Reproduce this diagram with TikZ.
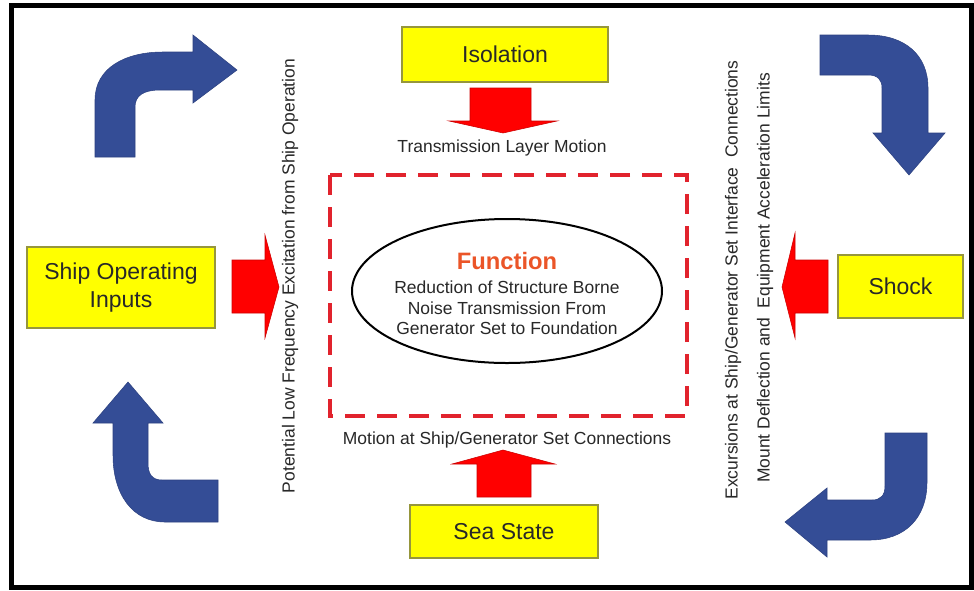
\documentclass[tikz,border=0pt]{standalone}
\usepackage{fontspec}
\setmainfont{Liberation Sans}
\usetikzlibrary{shapes.geometric}
\definecolor{arrowblue}{RGB}{52,77,150}
\definecolor{boxyellow}{RGB}{255,255,0}
\definecolor{boxedge}{RGB}{150,150,60}
\definecolor{funcred}{RGB}{235,85,40}
\definecolor{dashred}{RGB}{225,35,45}
\definecolor{txt}{RGB}{40,40,40}
\begin{document}
\begin{tikzpicture}[x=0.75pt,y=-0.75pt,
  box/.style={draw=boxedge,line width=0.9pt,fill=boxyellow,align=center,inner sep=0pt,
    text=txt,font=\fontsize{17.25}{21}\selectfont},
  small/.style={text=txt,font=\fontsize{13.1}{15.4}\selectfont,inner sep=0pt},
  redarrow/.style={fill=red,draw=red!80!black,line width=0.4pt},
  bluearrow/.style={fill=arrowblue,draw=arrowblue!85!black,line width=0.4pt}]
\useasboundingbox (0,0) rectangle (974,590);
\fill[white] (0,0) rectangle (974,590);
% frame
\draw[line width=3.75pt] (11.5,5.5) rectangle (971,587.5);

% boxes
\node[box,minimum width=154.5pt,minimum height=41.25pt] (iso) at (505,54.5) {Isolation};
\node[box,minimum width=141pt,minimum height=39.75pt] (sea) at (504,531.5) {Sea State};
\node[box,minimum width=141pt,minimum height=60.75pt] (ship) at (121,287.5) {Ship Operating\\Inputs};
\node[box,minimum width=93.75pt,minimum height=47.25pt] (shock) at (900.5,286.5) {Shock};

% dashed region and ellipse
\draw[dashred,line width=2.7pt,dash pattern=on 15pt off 9pt] (330,175) rectangle (687,416);
\node[draw,ellipse,line width=1.5pt,minimum width=232.5pt,minimum height=108pt,inner sep=0pt] (func) at (507,291) {};
\node[text=funcred,font=\fontsize{17.8}{20}\selectfont\bfseries,inner sep=0pt] (ftitle) at (507,261) {Function};
\node[small,align=center] (fbody) at (507,308) {Reduction of Structure Borne\\ Noise Transmission From\\Generator Set to Foundation};

% labels
\node[small] (tlm) at (502,148) {Transmission Layer Motion};
\node[small] (mot) at (507,440) {Motion at Ship/Generator Set Connections};
\node[small,rotate=90] (pot) at (290,276) {Potential Low Frequency Excitation from Ship Operation};
\node[small,rotate=90] (exc) at (733,280) {Excursions at Ship/Generator Set Interface\ \ Connections};
\node[small,rotate=90] (mnt) at (765,278) {Mount Deflection and\ \ Equipment Acceleration Limits};

% red block arrows
\draw[redarrow] (470,88) -- (531,88) -- (531,121) -- (557,121) -- (503,133) -- (449,121) -- (470,121) -- cycle;
\draw[redarrow] (477,497) -- (531,497) -- (531,464) -- (555,464) -- (503,450) -- (452,464) -- (477,464) -- cycle;
\draw[redarrow] (232,260) -- (265,260) -- (265,235) -- (279,287) -- (265,338) -- (265,313) -- (232,313) -- cycle;
\draw[redarrow] (828,260) -- (795,260) -- (795,233) -- (782,287) -- (795,338) -- (795,313) -- (828,313) -- cycle;

% blue curved arrows
\draw[bluearrow] (95,157) -- (95,100) .. controls (95,68) and (125,52) .. (163,52) -- (193,52) -- (193,35)
  -- (237,70) -- (193,103) -- (193,90) -- (160,90) .. controls (143,90) and (135,96) .. (135,107) -- (135,157) -- cycle;
\draw[bluearrow] (820,35) -- (868,35) .. controls (905,35) and (928,55) .. (928,88) -- (928,133) -- (945,133)
  -- (909,175) -- (873,133) -- (882,133) -- (882,88) .. controls (882,80) and (878,75) .. (868,75) -- (820,75) -- cycle;
\draw[bluearrow] (218,522) -- (165,522) .. controls (133,522) and (113,495) .. (113,455) -- (113,423) -- (93,423)
  -- (128,382) -- (163,423) -- (148,423) -- (148,463) .. controls (148,474) and (152,480) .. (162,480) -- (218,480) -- cycle;
\draw[bluearrow] (885,433) -- (927,433) -- (927,482) .. controls (927,518) and (905,540) .. (870,540) -- (827,540) -- (827,557)
  -- (785,522) -- (827,488) -- (827,500) -- (872,500) .. controls (881,500) and (885,495) .. (885,486) -- cycle;
\end{tikzpicture}
\end{document}
